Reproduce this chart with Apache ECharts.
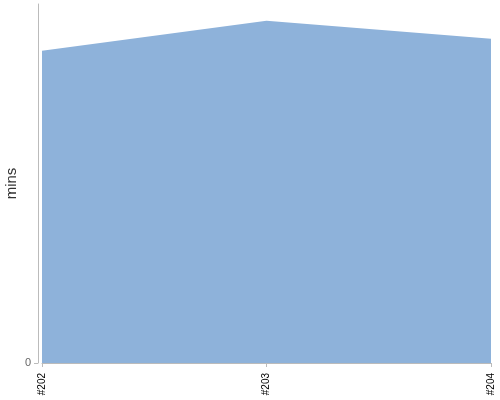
<!DOCTYPE html>
<html>
<head>
<meta charset="utf-8">
<script src="https://cdn.jsdelivr.net/npm/echarts@6/dist/echarts.min.js"></script>
<style>
html, body { margin: 0; padding: 0; background: #fff; }
#main { width: 500px; height: 400px; }
</style>
</head>
<body>
<div id="main"></div>
<script>
// 构建号与耗时（分钟）
var builds = ['#202', '#203', '#204'];
var durations = [87, 95.3, 90.3];
var yTicks = [0, 100];

var myChart = echarts.init(document.getElementById('main'));
var option = {
	animation: false,
	grid: { left: 42, right: 9, top: 4, bottom: 37, containLabel: false, outerBoundsMode: 'none' },
	xAxis: {
		type: 'category',
		data: builds,
		boundaryGap: false,
		offset: 4,
		axisLine: { lineStyle: { color: '#bbb', width: 1 } },
		axisTick: { show: true, length: 4, lineStyle: { color: '#bbb' } },
		axisLabel: { rotate: 90, fontSize: 10, color: '#000', fontFamily: 'Liberation Sans', margin: 6 },
		splitLine: { show: false }
	},
	yAxis: {
		type: 'value',
		min: yTicks[0],
		max: yTicks[1],
		interval: yTicks[1],
		offset: 4,
		name: 'mins',
		nameLocation: 'middle',
		nameGap: 19,
		nameMoveOverlap: false,
		nameTextStyle: { fontSize: 15, color: '#333', fontFamily: 'Liberation Sans' },
		axisLine: { show: true, lineStyle: { color: '#bbb', width: 1 } },
		axisTick: { show: true, length: 4, customValues: [0], lineStyle: { color: '#bbb' } },
		axisLabel: {
			fontSize: 11, color: '#666', fontFamily: 'Liberation Sans', margin: 7,
			customValues: [0]
		},
		splitLine: { show: false }
	},
	series: [{
		type: 'line',
		data: durations,
		symbol: 'none',
		lineStyle: { width: 0, color: '#8eb2da' },
		areaStyle: { color: '#8eb2da', opacity: 1 }
	}]
};
myChart.setOption(option);
</script>
</body>
</html>
